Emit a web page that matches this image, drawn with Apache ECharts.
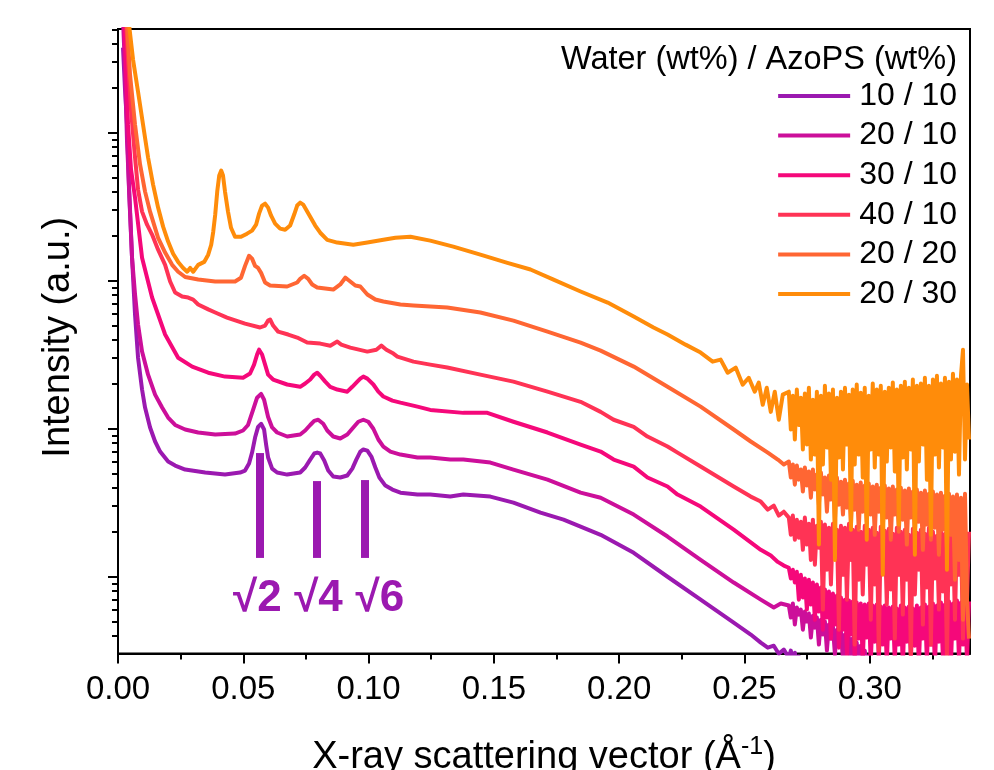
<!DOCTYPE html>
<html>
<head>
<meta charset="utf-8">
<script src="https://cdn.jsdelivr.net/npm/echarts@6/dist/echarts.min.js"></script>
<style>html,body{margin:0;padding:0;background:#fff}#c{width:994px;height:770px}</style>
</head>
<body>
<div id="c"></div>
<script>
// ---------------- data ----------------
const seriesNames = ['10 / 10', '20 / 10', '30 / 10', '40 / 10', '20 / 20', '20 / 30'];
const legendTitle = 'Water (wt%) / AzoPS (wt%)';
const xTicks = [0, 0.05, 0.10, 0.15, 0.20, 0.25, 0.30];
const xMinorTicks = [0.025, 0.075, 0.125, 0.175, 0.225, 0.275, 0.325];
const yMajorTicks = [1, 10, 100, 1000];
const yMinorTicks = [0.4, 0.5, 0.6, 0.7, 0.8, 0.9, 2, 3, 4, 5, 6, 7, 8, 9, 20, 30, 40, 50, 60, 70, 80, 90, 200, 300, 400, 500, 600, 700, 800, 900, 2000, 3000, 4000, 5000];

// high-q (noisy) part, shared q grid
const qTail = [0.2677,0.2685,0.2693,0.2701,0.2709,0.2717,0.2725,0.2733,0.2741,0.2749,0.2757,0.2765,0.2773,0.2781,0.2789,0.2797,0.2805,0.2813,0.2821,0.2829,0.2837,0.2845,0.2853,0.2861,0.2869,0.2877,0.2885,0.2893,0.2901,0.2909,0.2917,0.2925,0.2932,0.2940,0.2948,0.2956,0.2964,0.2972,0.2980,0.2988,0.2996,0.3004,0.3012,0.3020,0.3028,0.3036,0.3044,0.3052,0.3060,0.3068,0.3076,0.3084,0.3092,0.3100,0.3108,0.3116,0.3124,0.3132,0.3140,0.3148,0.3156,0.3164,0.3172,0.3180,0.3188,0.3196,0.3204,0.3212,0.3220,0.3228,0.3236,0.3244,0.3252,0.3260,0.3268,0.3276,0.3284,0.3292,0.3300,0.3308,0.3316,0.3324,0.3332,0.3340,0.3348,0.3356,0.3364,0.3372,0.3380,0.3388,0.3396];

// 10 / 10
const q1010 = [0.0020,0.0028,0.0036,0.0044,0.0056,0.0068,0.0080,0.0096,0.0108,0.0128,0.0148,0.0168,0.0200,0.0228,0.0268,0.0348,0.0427,0.0487,0.0507,0.0523,0.0535,0.0547,0.0559,0.0571,0.0583,0.0591,0.0599,0.0615,0.0635,0.0675,0.0727,0.0747,0.0767,0.0783,0.0795,0.0807,0.0823,0.0839,0.0859,0.0887,0.0915,0.0935,0.0951,0.0967,0.0979,0.0995,0.1011,0.1027,0.1043,0.1067,0.1095,0.1127,0.1195,0.1246,0.1326,0.1378,0.1486,0.1578,0.1686,0.1778,0.1846,0.1926,0.2058,0.2193,0.2325,0.2457,0.2525,0.2565,0.2593,0.2617,0.2637,0.2657];
const i1010 = [3760,1955,1133,413,143,59.1,30.2,18.4,13.9,10.2,8.2,7.01,6.0,5.64,5.30,5.06,4.90,5.06,5.22,5.82,6.9,8.72,10.3,10.8,9.88,7.82,6.39,5.38,5.06,4.90,5.06,5.47,6.19,6.8,6.9,6.8,6.1,5.22,4.75,4.68,4.83,5.38,6.19,7.01,7.24,7.12,6.49,5.47,4.68,4.13,3.88,3.70,3.59,3.59,3.48,3.59,3.48,3.17,2.71,2.43,2.18,1.92,1.45,1.0,0.70,0.49,0.407,0.359,0.332,0.342,0.302,0.322];
const t1010 = [0.284,0.317,0.266,0.307,0.251,0.289,0.235,0.275,0.218,0.255,0.20,0.235,0.187,0.218,0.172,0.20];

// 20 / 10
const q2010 = [0.0020,0.0028,0.0036,0.0048,0.0056,0.0068,0.0080,0.0096,0.0120,0.0148,0.0176,0.0200,0.0228,0.0268,0.0320,0.0388,0.0467,0.0499,0.0519,0.0539,0.0555,0.0571,0.0583,0.0599,0.0615,0.0635,0.0675,0.0727,0.0747,0.0767,0.0783,0.0799,0.0819,0.0835,0.0859,0.0887,0.0915,0.0939,0.0959,0.0979,0.0999,0.1019,0.1039,0.1059,0.1087,0.1127,0.1195,0.1246,0.1326,0.1378,0.1486,0.1578,0.1714,0.1846,0.1926,0.2058,0.2193,0.2325,0.2457,0.2565,0.2617,0.2645];
const i2010 = [5820,2670,872,302,143,80.7,50.6,33.2,23.2,17.0,13.9,11.9,10.6,9.88,9.43,9.14,9.28,9.73,10.6,13.4,16.2,17.2,15.7,12.0,10.2,9.43,8.86,9.14,9.73,10.6,11.3,11.5,10.8,9.73,8.86,8.59,9.14,10.2,11.15,11.5,11.15,10.0,8.46,7.58,7.01,6.69,6.39,6.39,6.19,6.19,5.91,5.30,4.53,3.70,3.42,2.63,1.87,1.30,0.914,0.70,0.619,0.659];
const t2010 = [0.639,0.53,0.659,0.475,0.619,0.555,0.60,0.439,0.582,0.498,0.564,0.388,0.546,0.453,0.53,0.348,0.512,0.407,0.498,0.317,0.475,0.382,0.46,0.298,0.439,0.348,0.426,0.275,0.407,0.317,0.388,0.266,0.382,0.298,0.359,0.255,0.342,0.275,0.317,0.243,0.298];

// 30 / 10
const q3010 = [0.0024,0.0032,0.0040,0.0052,0.0068,0.0096,0.0136,0.0188,0.0240,0.0296,0.0360,0.0427,0.0499,0.0527,0.0543,0.0555,0.0563,0.0575,0.0587,0.0599,0.0619,0.0675,0.0727,0.0747,0.0767,0.0783,0.0795,0.0807,0.0827,0.0847,0.0875,0.0915,0.0935,0.0955,0.0967,0.0979,0.0995,0.1019,0.1039,0.1059,0.1095,0.1127,0.1195,0.1246,0.1378,0.1474,0.1578,0.1714,0.1846,0.1926,0.1978,0.2058,0.2113,0.2193,0.2233,0.2325,0.2457,0.2565,0.2605,0.2633,0.2657];
const i3010 = [6800,2670,1133,564,364,143,77.0,43.3,30.2,26.3,23.9,22.5,22.1,23.6,27.1,31.7,34.2,31.7,27.1,23.2,21.5,19.9,19.2,20.2,21.5,23.2,23.9,22.8,20.8,19.2,18.4,17.8,19.2,20.8,21.8,22.5,21.8,19.9,17.8,16.5,15.5,15.0,14.1,13.4,12.8,12.8,11.15,9.43,7.82,7.01,6.19,5.55,4.68,4.07,3.59,2.98,2.08,1.52,1.39,1.26,1.19];
const t3010 = [1.15,0.973,1.115,0.914,1.08,0.70,1.03,0.724,0.973,0.60,0.955,0.649,0.914,0.512,0.886,0.582,0.846,0.439,0.821,0.53,0.795,0.382,0.77,0.475,0.746,0.332,0.724,0.439,0.70,0.298,0.69,0.407,0.68,0.275,0.669,0.382,0.659,0.266,0.649,0.388,0.659,0.255,0.639,0.364,0.649,0.275,0.629,0.348,0.639,0.255,0.619,0.382,0.629,0.266,0.61,0.348,0.639,0.243,0.619,0.364,0.629,0.275,0.61,0.342,0.639,0.255,0.619,0.382,0.649,0.266,0.629,0.348,0.659,0.243,0.639,0.364,0.669,0.275,0.649,0.332,0.68,0.255,0.659,0.382,0.69,0.275,0.669,0.348,0.70,0.266,0.68];

// 40 / 10
const q4010 = [0.0028,0.0040,0.0052,0.0068,0.0080,0.0096,0.0116,0.0136,0.0160,0.0188,0.0208,0.0228,0.0256,0.0280,0.0300,0.0320,0.0360,0.0388,0.0435,0.0507,0.0567,0.0587,0.0599,0.0607,0.0619,0.0639,0.0679,0.0715,0.0755,0.0807,0.0847,0.0875,0.0891,0.0927,0.0995,0.1031,0.1051,0.1071,0.1099,0.1115,0.1179,0.1246,0.1314,0.1446,0.1578,0.1714,0.1846,0.1926,0.1978,0.2058,0.2113,0.2193,0.2233,0.2325,0.2457,0.2525,0.2565,0.2593,0.2617,0.2637,0.2657];
const i4010 = [7950,3120,1430,680,413,293,239,205,162,128,98.8,83.3,78.2,77.0,74.6,69.1,64.0,61.0,56.4,51.3,48.3,49.8,53.8,54.7,49.8,45.3,43.3,41.3,38.2,37.6,36.4,38.8,37.0,35.3,33.2,34.2,36.4,34.2,32.2,30.7,28.4,27.1,25.9,23.2,20.8,17.8,15.2,13.0,11.5,10.3,8.86,7.58,6.9,5.55,4.07,3.48,3.22,2.84,3.02,2.59,2.75];
const t4010 = [2.51,1.92,2.59,1.78,2.43,1.836,2.35,1.52,2.51,1.65,2.28,1.30,2.43,1.205,2.21,1.57,2.35,0.60,2.25,1.115,2.145,0.886,2.28,1.41,2.08,0.439,2.21,1.03,2.145,0.70,2.28,1.30,2.08,0.348,2.18,0.955,2.016,0.758,2.21,1.205,2.08,0.512,2.145,0.886,1.985,0.317,2.18,1.115,2.047,0.649,2.112,0.821,1.955,0.382,2.145,1.03,2.016,0.555,2.08,0.955,1.924,0.298,2.112,0.758,1.985,1.115,2.08,0.475,1.955,0.846,2.145,0.348,2.016,0.973,1.894,0.60,2.08,0.795,1.955,0.28,2.112,0.886,1.985,0.512,2.047,1.03,1.924,0.382,2.08,0.70,2.016];

// 20 / 20
const q2020 = [0.0032,0.0036,0.0048,0.0068,0.0088,0.0108,0.0128,0.0160,0.0188,0.0216,0.0240,0.0268,0.0320,0.0388,0.0467,0.0491,0.0507,0.0523,0.0535,0.0547,0.0559,0.0571,0.0587,0.0607,0.0675,0.0715,0.0727,0.0743,0.0759,0.0775,0.0795,0.0827,0.0859,0.0887,0.0907,0.0923,0.0947,0.0967,0.0995,0.1027,0.1059,0.1127,0.1179,0.1314,0.1446,0.1578,0.1714,0.1846,0.1926,0.2058,0.2193,0.2325,0.2457,0.2525,0.2593,0.2633,0.2657];
const i2020 = [7950,5380,2470,1133,610,400,293,195,155,128,115,106,102,98.8,98.8,104.8,126,147.5,141,126,122,113,97.3,92.8,91.4,97.3,103,108,103,94.3,90.0,88.6,87.2,94.3,104.8,100,92.8,91.4,80.7,74.6,72.4,69.1,68.0,65.9,61.0,53.8,45.3,38.2,33.7,26.3,19.2,14.1,9.88,8.2,6.9,6.19,5.73];
const t2020 = [6.0,4.68,5.73,4.19,5.64,4.53,5.30,3.76,5.47,4.13,5.14,3.42,5.30,3.88,4.90,3.07,5.06,3.59,4.68,2.75,4.83,3.32,4.53,2.43,4.68,3.07,4.39,2.63,4.53,2.93,4.26,2.25,4.46,2.84,4.19,2.08,4.33,2.75,4.13,2.35,4.26,2.63,4.07,1.92,4.19,2.75,4.0,2.145,4.13,2.51,3.94,1.78,4.07,2.63,3.88,2.016,4.0,2.43,3.82,1.65,3.94,2.51,3.76,1.92,3.88,2.35,3.70,1.52,3.82,2.25,3.64,1.78,3.76,2.145,3.59,1.41,3.70,2.08,3.53,1.57,3.64,1.92,3.48,0.955,3.59,1.30,3.42,0.512,3.64,0.70,0.382];

// 20 / 30
const q2030 = [0.0040,0.0044,0.0060,0.0080,0.0100,0.0120,0.0140,0.0160,0.0180,0.0200,0.0220,0.0240,0.0260,0.0276,0.0288,0.0300,0.0320,0.0344,0.0360,0.0372,0.0380,0.0388,0.0396,0.0404,0.0412,0.0419,0.0427,0.0439,0.0451,0.0467,0.0491,0.0515,0.0535,0.0551,0.0563,0.0575,0.0587,0.0599,0.0611,0.0627,0.0647,0.0667,0.0687,0.0703,0.0715,0.0727,0.0739,0.0751,0.0767,0.0787,0.0807,0.0835,0.0875,0.0939,0.0995,0.1059,0.1107,0.1167,0.1246,0.1338,0.1446,0.1554,0.1646,0.1738,0.1846,0.1954,0.2058,0.2137,0.2193,0.2265,0.2325,0.2373,0.2405,0.2433,0.2465,0.2493,0.2517,0.2541,0.2557,0.2573,0.2589,0.2605,0.2621,0.2637,0.2653];
const i2030 = [7950,5380,3120,1890,1133,680,446,312,232,184,152,134,122,115,122,115,128,134,150,175,214,280,400,514,555,514,400,293,228,198,198,208,218,239,284,322,332,312,275,243,225,221,236,280,322,337,327,302,271,236,211,189,181,175,181,189,195,198,186.5,170,150,132,119,101.6,84.6,71.2,57.3,48.3,43.3,37.0,32.7,28.4,29.3,23.9,25.9,19.85,22.1,17.8,20.5,14.5,18.9,13.0,17.8,11.5,17.0];
const t2030 = [17.8,9.88,16.7,8.46,18.4,10.6,16.2,7.24,17.3,7.82,18.9,6.19,15.7,6.69,17.8,1.65,16.7,5.73,19.5,7.47,17.3,4.53,18.4,1.30,16.2,6.39,17.8,5.30,18.9,7.82,17.0,2.08,18.4,5.73,19.9,6.69,17.5,4.68,18.9,1.78,16.7,7.24,20.2,5.47,18.4,6.69,19.5,1.03,17.8,6.0,18.9,7.47,20.5,5.14,18.4,2.25,19.5,6.39,20.8,5.30,18.9,7.24,21.5,1.41,19.5,6.0,20.2,7.82,22.1,4.53,19.5,1.92,21.5,6.69,22.8,5.47,20.2,7.47,22.1,1.115,20.8,6.19,23.5,7.0,21.5,4.90,22.8,34.2,6.19,19.9,8.46];

// peak-position markers (annotation)
const peakQ = [0.0564, 0.0792, 0.0985];
const peakTop = [6.85, 4.43, 4.50];
const peakBottom = [1.34, 1.34, 1.34];
const peakLabels = ['\u221A2', '\u221A4', '\u221A6'];
const peakLabelShift = [-2, 2, 15];

// ---------------- build ----------------
const FONT = '"Liberation Sans", Arial, Helvetica, sans-serif';
const colors = ['#9b19b0', '#cc0f9a', '#f5087a', '#ff3355', '#ff6633', '#ff8c0a'];
function build(q, v, tail) {
  const out = q.map((x, k) => [x, v[k]]);
  tail.forEach((y, k) => out.push([qTail[k], y]));
  return out;
}
const datasets = [
  build(q1010, i1010, t1010),
  build(q2010, i2010, t2010),
  build(q3010, i3010, t3010),
  build(q4010, i4010, t4010),
  build(q2020, i2020, t2020),
  build(q2030, i2030, t2030)
];

const yMin = 0.303, yMax = 5020;

const series = datasets.map((d, k) => ({
  name: seriesNames[k],
  type: 'line',
  xAxisIndex: 0,
  yAxisIndex: 0,
  data: d,
  showSymbol: false,
  symbol: 'none',
  clip: true,
  silent: true,
  lineStyle: { color: colors[k], width: 4, join: 'round' },
  itemStyle: { color: colors[k] },
  emphasis: { disabled: true }
}));

series[0].markLine = {
  silent: true,
  symbol: ['none', 'none'],
  animation: false,
  lineStyle: { color: colors[0], width: 8, type: 'solid' },
  emphasis: { disabled: true },
  label: {
    show: true, position: 'end', distance: 19,
    formatter: '{b}',
    fontSize: 44, fontWeight: 'bold', fontFamily: FONT, color: colors[0]
  },
  data: peakQ.map((q, k) => [
    { coord: [q, peakTop[k]], name: peakLabels[k], label: { offset: [peakLabelShift[k], 0] } },
    { coord: [q, peakBottom[k]] }
  ])
};

const tickStyle = { color: '#000', width: 2 };
const option = {
  animation: false,
  backgroundColor: '#fff',
  title: {
    text: legendTitle,
    right: 37, top: 44, padding: 0,
    textStyle: { fontSize: 32.5, fontWeight: 'normal', color: '#000', fontFamily: FONT, lineHeight: 32 }
  },
  legend: {
    data: seriesNames,
    orient: 'vertical',
    right: 37, top: 80,
    padding: 0,
    itemWidth: 72, itemHeight: 4, itemGap: 7.6,
    icon: 'rect',
    align: 'left',
    selectedMode: false,
    textStyle: { fontSize: 32, color: '#000', fontFamily: FONT, lineHeight: 32, padding: [0, 0, 0, 4] }
  },
  grid: {
    left: 118, top: 29, width: 852, height: 624.5,
    show: true, borderColor: '#000', borderWidth: 2, backgroundColor: 'transparent',
    containLabel: false, outerBoundsMode: 'none'
  },
  xAxis: [
    {
      type: 'value', min: 0, max: 0.34, position: 'bottom',
      axisLine: { show: true, onZero: false, lineStyle: tickStyle },
      axisTick: { show: true, customValues: xTicks, length: 10, inside: false, lineStyle: tickStyle },
      minorTick: { show: false },
      axisLabel: {
        show: true, customValues: xTicks, margin: 20,
        formatter: v => Number(v).toFixed(2),
        fontSize: 33, color: '#000', fontFamily: FONT
      },
      splitLine: { show: false },
      name: 'X-ray scattering vector (\u00C5{sup|-1})',
      nameLocation: 'middle', nameGap: 81,
      nameTextStyle: {
        fontSize: 38, color: '#000', fontFamily: FONT, lineHeight: 46,
        rich: { sup: { fontSize: 25, color: '#000', fontFamily: FONT, verticalAlign: 'top', lineHeight: 25 } }
      }
    },
    {
      type: 'value', min: 0, max: 0.34, position: 'bottom',
      axisLine: { show: false, onZero: false },
      axisTick: { show: true, customValues: xMinorTicks, length: 6, inside: false, lineStyle: tickStyle },
      axisLabel: { show: false },
      splitLine: { show: false }
    }
  ],
  yAxis: [
    {
      type: 'log', logBase: 10, min: yMin, max: yMax, position: 'left',
      axisLine: { show: true, onZero: false, lineStyle: tickStyle },
      axisTick: { show: true, customValues: yMajorTicks, length: 10, inside: false, lineStyle: tickStyle },
      axisLabel: { show: false },
      splitLine: { show: false },
      name: 'Intensity (a.u.)',
      nameLocation: 'middle', nameGap: 40, nameRotate: 90,
      nameTextStyle: { fontSize: 38, color: '#000', fontFamily: FONT, padding: [0, 0, 0, 8] }
    },
    {
      type: 'log', logBase: 10, min: yMin, max: yMax, position: 'left',
      axisLine: { show: false, onZero: false },
      axisTick: { show: true, customValues: yMinorTicks, length: 6, inside: false, lineStyle: tickStyle },
      axisLabel: { show: false },
      splitLine: { show: false }
    }
  ],
  series: series
};

const chart = echarts.init(document.getElementById('c'), null, { renderer: 'canvas' });
chart.setOption(option);
</script>
</body>
</html>
